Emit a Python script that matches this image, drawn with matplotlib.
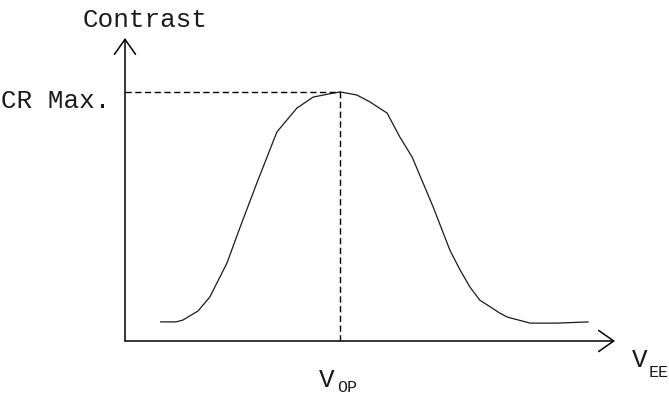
import matplotlib
matplotlib.use("Agg")
import matplotlib.pyplot as plt

# Data (arbitrary units: voltage 0-100, contrast 0-100)
v_ee = [7.3, 10.4, 11.8, 14.9, 17.3, 20.8, 23.5, 26.9, 31.0, 35.1, 38.4, 42.4,
        43.9, 47.3, 50.0, 53.5, 56.1, 58.6, 62.9, 66.3, 68.4, 70.4, 72.4, 76.5,
        78.0, 82.7, 88.2, 94.5]
contrast = [6.3, 6.3, 6.9, 9.9, 14.5, 25.7, 37.6, 52.1, 69.0, 76.9, 80.5, 81.8,
            82.2, 81.2, 78.9, 75.2, 67.3, 60.7, 44.2, 30.0, 23.4, 17.8, 13.5, 9.2,
            7.9, 5.9, 5.9, 6.3]
v_op = 43.9
cr_max = 82.2

W, H = 669, 398
fig = plt.figure(figsize=(W / 100, H / 100), dpi=100)
ax = fig.add_axes([125 / W, (H - 341) / H, 490 / W, 303 / H])
ax.set_xlim(0, 100)
ax.set_ylim(0, 100)
ax.axis("off")

font = "Liberation Mono"

ax.plot(v_ee, contrast, color="#1a1a1a", lw=0.9, solid_joinstyle="round")
ax.plot([0, v_op], [cr_max, cr_max], color="black", lw=1.0, ls=(0, (4.5, 2.5)))
ax.plot([v_op, v_op], [0, cr_max], color="black", lw=1.0, ls=(0, (4.5, 2.5)))

arrow = dict(arrowstyle="->,head_length=0.54,head_width=0.38", color="black",
             lw=1.1, shrinkA=0, shrinkB=0, mutation_scale=20)
ax.annotate("", xy=(100, 0), xytext=(0, 0), arrowprops=arrow, annotation_clip=False)
ax.annotate("", xy=(0, 100), xytext=(0, 0), arrowprops=arrow, annotation_clip=False)


def ptext(x, y, s, size, ha="left"):
    fig.text(x / W, 1 - y / H, s, fontsize=size, family=font, ha=ha,
             va="baseline", color="#1a1a1a")


ptext(145, 27, "Contrast", 18.7, ha="center")
ptext(1, 108, "CR Max.", 18.7)
ptext(319, 387, "V", 18.7)
ptext(337, 392, "OP", 12)
ptext(632, 367, "V", 18.7)
ptext(649, 377, "EE", 12)

fig.savefig("out.png", dpi=100)
